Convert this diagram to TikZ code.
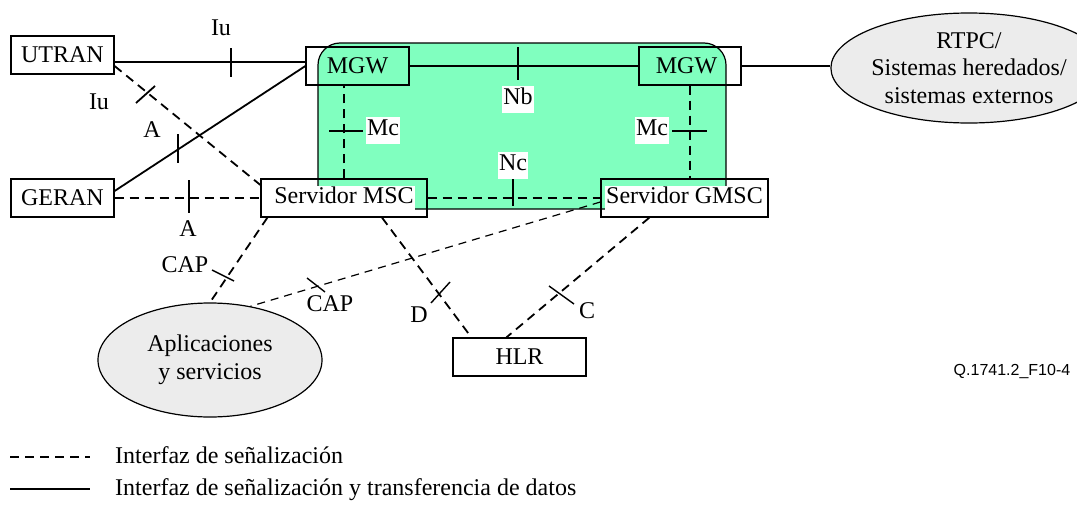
\documentclass[tikz,border=0pt]{standalone}
\usepackage{fontspec}
\setmainfont{Liberation Serif}
\newfontfamily\qfont{Liberation Sans}
\usetikzlibrary{shapes.geometric}
\definecolor{mint}{RGB}{128,255,191}
\definecolor{cloud}{RGB}{236,236,236}
\newcommand\wbg[1]{{\setlength\fboxsep{1pt}\colorbox{white}{\rule[-5pt]{0pt}{18pt}#1}}}
\begin{document}
\begin{tikzpicture}[x=1pt,y=-1pt,
  every node/.style={font=\fontsize{24}{27.5}\selectfont},
  box/.style={draw, line width=1.2pt, minimum height=38pt, inner sep=0pt},
  cloudy/.style={ellipse, draw, fill=cloud, line width=1.2pt, inner sep=0pt, align=center},
  sig/.style={line width=1.8pt, dash pattern=on 9pt off 6pt},
  thinsig/.style={line width=1.2pt, dash pattern=on 8pt off 6pt},
  data/.style={line width=1.8pt},
  tickmark/.style={line width=1.8pt},
  wlab/.style={fill=white, inner xsep=1pt, inner ysep=2pt, text height=17pt, text depth=6pt},
  lab/.style={inner sep=0pt}
]
\useasboundingbox (0,0) rectangle (1077,506);

% green core network area
\draw[line width=1.2pt, fill=mint, rounded corners=22pt] (318,43) rectangle (726,209);

% nodes
\node[box, minimum width=103pt] (utran) at (62.5,55) {UTRAN};
\node[box, minimum width=103pt] (geran) at (62.5,198) {GERAN};
\node[box, minimum width=103pt] (mgw1) at (357.5,66) {MGW};
\node[box, minimum width=102pt] (mgw2) at (690,66) {\hspace*{-7pt}MGW};
\node[box, minimum width=166pt] (msc) at (344,198) {\wbg{Servidor MSC}};
\node[box, minimum width=167pt] (gmsc) at (684.5,198) {\wbg{Servidor GMSC}};
\node[box, minimum width=133pt] (hlr) at (519.5,357) {HLR};
\node[cloudy, minimum width=216pt, minimum height=110pt] (rtpc) at (969,68) {RTPC/\\Sistemas heredados/\\sistemas externos};
\node[cloudy, minimum width=224pt, minimum height=114pt] (apl) at (210,360) {Aplicaciones\\y servicios};

% connectors
\draw[data] ([yshift=-7pt]utran.east) -- ([yshift=-7pt]utran.east -| mgw1.west);
\draw[sig] ([yshift=-11pt]utran.east) -- ([yshift=13pt]msc.west);
\draw[data] ([yshift=7pt]geran.east) -- (mgw1.west);
\draw[sig] (geran) -- (msc);
\draw[data] (mgw1) -- (mgw2);
\draw[data] (mgw2.east) -- (mgw2.east -| rtpc.west);
\draw[sig] (msc.north) -- (msc.north |- mgw1.south);
\draw[sig] (mgw2.south) -- (mgw2.south |- gmsc.north);
\draw[sig] (msc) -- (gmsc);
\draw[sig] ([xshift=7pt]msc.south west) -- (apl.north);
\draw[thinsig] ([yshift=-4pt]gmsc.west) -- (apl.53);
\draw[sig] ([xshift=38pt]msc.south) -- ([xshift=19pt]hlr.north west);
\draw[sig] ([xshift=49pt]gmsc.south west) -- ([xshift=54pt]hlr.north west);

% interface tick marks
\draw[tickmark] (231,48) -- (231,77);
\draw[tickmark] (136,103) -- (155,86);
\draw[tickmark] (178,134) -- (178,163);
\draw[tickmark] (189,180) -- (189,213);
\draw[tickmark] (518,47) -- (518,80);
\draw[tickmark] (329,131) -- (363,131);
\draw[tickmark] (672,131) -- (707,131);
\draw[tickmark] (513,179) -- (513,206);
\draw[line width=1.4pt] (212,270) -- (234,281);
\draw[line width=1.4pt] (307,278) -- (325,292);
\draw[line width=1.4pt] (431,303) -- (450,282);
\draw[line width=1.4pt] (549,286) -- (574,304);

% interface labels
\node[lab] (iu1) at (221,28) {Iu};
\node[lab] (iu2) at (99,102) {Iu};
\node[lab] (a1) at (152,130) {A};
\node[lab] (a2) at (188,229) {A};
\node[wlab] (nb) at (518,99) {Nb};
\node[wlab] (mc1) at (383,130) {Mc};
\node[wlab] (mc2) at (652,130) {Mc};
\node[wlab] (nc) at (513,165) {Nc};
\node[lab] (cap1) at (185,265) {CAP};
\node[lab] (cap2) at (330,304) {CAP};
\node[lab] (d) at (419,315) {D};
\node[lab] (c) at (587,311) {C};

% figure id
\node[font=\qfont\fontsize{16}{18}\selectfont, inner sep=0pt] (fid) at (1012,372) {Q.1741.2\_F10-4};

% legend
\coordinate (l1a) at (10,457);
\coordinate (l1b) at (90,457);
\coordinate (l2a) at (10,489);
\coordinate (l2b) at (90,489);
\draw[line width=1.5pt, dash pattern=on 9pt off 6pt] (l1a) -- (l1b);
\draw[line width=1.5pt] (l2a) -- (l2b);
\node[anchor=west, inner sep=0pt] (leg1) at (115,455) {Interfaz de señalización};
\node[anchor=west, inner sep=0pt] (leg2) at (115,490) {Interfaz de señalización y transferencia de datos};
\end{tikzpicture}
\end{document}
